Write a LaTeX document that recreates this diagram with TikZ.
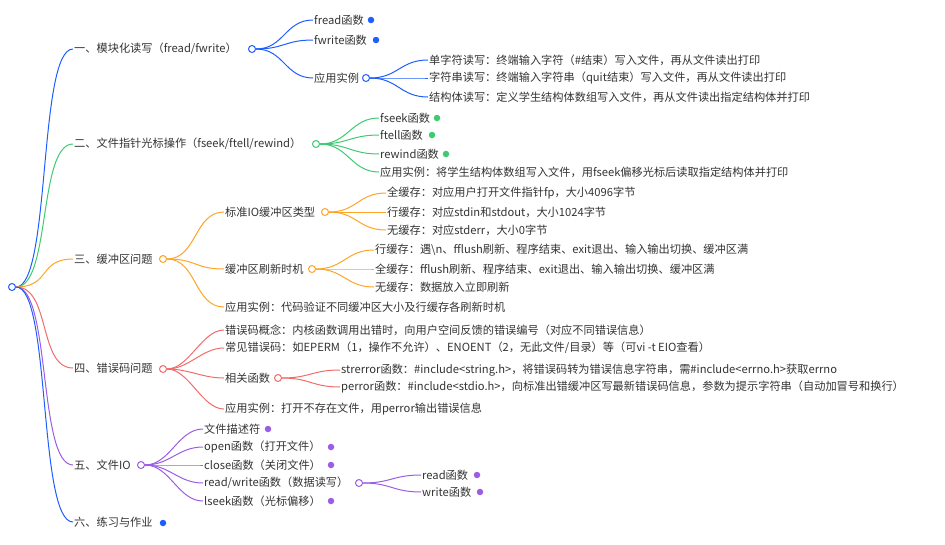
\documentclass[tikz,border=0pt]{standalone}
\usepackage{fontspec}
\setmainfont{Noto Sans CJK SC}
\begin{document}
\begin{tikzpicture}[x=1pt,y=-1pt,
  txt/.style={anchor=west,inner sep=1pt,font=\fontsize{11.2}{13}\selectfont,text=black!80},
  oc/.style={circle,draw=#1,fill=white,line width=1pt,inner sep=0pt,minimum size=7pt},
  fc/.style={circle,fill=#1,inner sep=0pt,minimum size=6.5pt},
  ln/.style={draw=#1,line width=1pt}]
\definecolor{cb}{HTML}{1E5EFF}
\definecolor{cg}{HTML}{3CCB72}
\definecolor{co}{HTML}{FFA526}
\definecolor{cr}{HTML}{F26B6B}
\definecolor{cp}{HTML}{9B5DE5}
\useasboundingbox (0,0) rectangle (945,544);
\newcommand\lnk[4][28]{\draw[ln=#2] (#3) .. controls +(#1,0) and +(-#1,0) .. (#4);}
\node[oc=cb] (root) at (12,287) {};
% level 1
\node[txt] (a) at (73,49) {一、模块化读写（fread/fwrite）};
\node[oc=cb] (ac) at (252,49) {};
\node[txt] (b) at (73,144) {二、文件指针光标操作（fseek/ftell/rewind）};
\node[oc=cg] (bc) at (316,144) {};
\node[txt] (c) at (73,259) {三、缓冲区问题};
\node[oc=co] (cc) at (163,259) {};
\node[txt] (d) at (73,368) {四、错误码问题};
\node[oc=cr] (dc) at (163,369) {};
\node[txt] (e) at (73,465) {五、文件IO};
\node[oc=cp] (ec) at (141,465) {};
\node[txt] (f) at (73,522) {六、练习与作业};
\node[fc=cb] (fd) at (163,523) {};
\lnk[35]{cb}{root.east}{a.west}
\lnk[35]{cg}{root.east}{b.west}
\lnk[35]{co}{root.east}{c.west}
\lnk[35]{cr}{root.east}{d.west}
\lnk[35]{cp}{root.east}{e.west}
\lnk[35]{cb}{root.east}{f.west}
% branch a
\node[txt] (a1) at (313,20) {fread函数};
\node[fc=cb] (a1d) at (371,20) {};
\node[txt] (a2) at (313,40) {fwrite函数};
\node[fc=cb] (a2d) at (376,40) {};
\node[txt] (a3) at (313,78) {应用实例};
\node[oc=cb] (a3c) at (366,78) {};
\lnk{cb}{ac.east}{a1.west}
\lnk{cb}{ac.east}{a2.west}
\lnk{cb}{ac.east}{a3.west}
\node[txt] (a31) at (428,60) {单字符读写：终端输入字符（\#结束）写入文件，再从文件读出打印};
\node[txt] (a32) at (428,78) {字符串读写：终端输入字符串（quit结束）写入文件，再从文件读出打印};
\node[txt] (a33) at (428,97) {结构体读写：定义学生结构体数组写入文件，再从文件读出指定结构体并打印};
\lnk{cb}{a3c.east}{a31.west}
\lnk{cb}{a3c.east}{a32.west}
\lnk{cb}{a3c.east}{a33.west}
% branch b
\node[txt] (b1) at (379,118) {fseek函数};
\node[fc=cg] (b1d) at (437,118) {};
\node[txt] (b2) at (379,135) {ftell函数};
\node[fc=cg] (b2d) at (432,135) {};
\node[txt] (b3) at (379,154) {rewind函数};
\node[fc=cg] (b3d) at (446,154) {};
\node[txt] (b4) at (379,172) {应用实例：将学生结构体数组写入文件，用fseek偏移光标后读取指定结构体并打印};
\lnk{cg}{bc.east}{b1.west}
\lnk{cg}{bc.east}{b2.west}
\lnk{cg}{bc.east}{b3.west}
\lnk{cg}{bc.east}{b4.west}
% branch c
\node[txt] (c1) at (224,212) {标准IO缓冲区类型};
\node[oc=co] (c1c) at (325,212) {};
\node[txt] (c2) at (224,269) {缓冲区刷新时机};
\node[oc=co] (c2c) at (312,269) {};
\node[txt] (c3) at (224,307) {应用实例：代码验证不同缓冲区大小及行缓存各刷新时机};
\lnk[30]{co}{cc.east}{c1.west}
\lnk[30]{co}{cc.east}{c2.west}
\lnk[30]{co}{cc.east}{c3.west}
\node[txt] (c11) at (386,193) {全缓存：对应用户打开文件指针fp，大小4096字节};
\node[txt] (c12) at (386,212) {行缓存：对应stdin和stdout，大小1024字节};
\node[txt] (c13) at (386,230) {无缓存：对应stderr，大小0字节};
\lnk{co}{c1c.east}{c11.west}
\lnk{co}{c1c.east}{c12.west}
\lnk{co}{c1c.east}{c13.west}
\node[txt] (c21) at (374,250) {行缓存：遇\textbackslash n、fflush刷新、程序结束、exit退出、输入输出切换、缓冲区满};
\node[txt] (c22) at (374,269) {全缓存：fflush刷新、程序结束、exit退出、输入输出切换、缓冲区满};
\node[txt] (c23) at (374,287) {无缓存：数据放入立即刷新};
\lnk{co}{c2c.east}{c21.west}
\lnk{co}{c2c.east}{c22.west}
\lnk{co}{c2c.east}{c23.west}
% branch d
\node[txt] (d1) at (224,330) {错误码概念：内核函数调用出错时，向用户空间反馈的错误编号（对应不同错误信息）};
\node[txt] (d2) at (224,348) {常见错误码：如EPERM（1，操作不允许）、ENOENT（2，无此文件/目录）等（可vi -t EIO查看）};
\node[txt] (d3) at (224,378) {相关函数};
\node[oc=cr] (d3c) at (278,378) {};
\node[txt] (d4) at (224,409) {应用实例：打开不存在文件，用perror输出错误信息};
\lnk[22]{cr}{dc.east}{d1.west}
\lnk[22]{cr}{dc.east}{d2.west}
\lnk[22]{cr}{dc.east}{d3.west}
\lnk[22]{cr}{dc.east}{d4.west}
\node[txt] (d31) at (340,370) {strerror函数：\#include<string.h>，将错误码转为错误信息字符串，需\#include<errno.h>获取errno};
\node[txt] (d32) at (340,387) {perror函数：\#include<stdio.h>，向标准出错缓冲区写最新错误码信息，参数为提示字符串（自动加冒号和换行）};
\lnk{cr}{d3c.east}{d31.west}
\lnk{cr}{d3c.east}{d32.west}
% branch e
\node[txt] (e1) at (203,429) {文件描述符};
\node[fc=cp] (e1d) at (268,429) {};
\node[txt] (e2) at (203,447) {open函数（打开文件）};
\node[fc=cp] (e2d) at (331,447) {};
\node[txt] (e3) at (203,465) {close函数（关闭文件）};
\node[fc=cp] (e3d) at (331,465) {};
\node[txt] (e4) at (203,483) {read/write函数（数据读写）};
\node[oc=cp] (e4c) at (359,483) {};
\node[txt] (e5) at (203,501) {lseek函数（光标偏移）};
\node[fc=cp] (e5d) at (331,501) {};
\lnk[25]{cp}{ec.east}{e1.west}
\lnk[25]{cp}{ec.east}{e2.west}
\lnk[25]{cp}{ec.east}{e3.west}
\lnk[25]{cp}{ec.east}{e4.west}
\lnk[25]{cp}{ec.east}{e5.west}
\node[txt] (e41) at (421,475) {read函数};
\node[fc=cp] (e41d) at (477,475) {};
\node[txt] (e42) at (421,492) {write函数};
\node[fc=cp] (e42d) at (480,492) {};
\lnk{cp}{e4c.east}{e41.west}
\lnk{cp}{e4c.east}{e42.west}
\end{tikzpicture}
\end{document}
